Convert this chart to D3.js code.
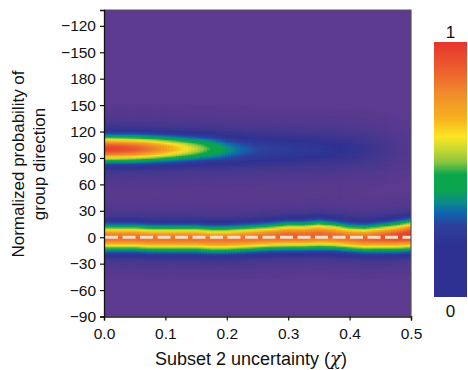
<!DOCTYPE html>
<html><head><meta charset="utf-8">
<script src="https://cdn.jsdelivr.net/npm/d3@7"></script>
<style>body{margin:0;background:#fff}svg{display:block}text{font-family:"Liberation Sans",Arial,sans-serif;fill:#111}</style>
</head><body>
<svg id="c" width="468" height="370"></svg>
<script>
// ---- data ----
const uncertainty = [0,0.025,0.05,0.075,0.1,0.125,0.15,0.175,0.2,0.225,0.25,0.275,0.3,0.325,0.35,0.375,0.4,0.425,0.45,0.475,0.5];
// band around 0 degrees
const band0Center = [0,0,0,-1,-1,-1,-1,-2,-2,-1,0,1,2,2,3,2,0,-1,0,1,3];
const band0Core   = [0.6,0.6,0.6,0.59,0.59,0.59,0.59,0.58,0.58,0.59,0.6,0.61,0.63,0.62,0.62,0.61,0.6,0.62,0.65,0.68,0.72];
const band0Halo   = [0.26,0.26,0.26,0.26,0.26,0.26,0.26,0.26,0.26,0.26,0.26,0.26,0.26,0.26,0.26,0.26,0.26,0.26,0.26,0.27,0.28];
const band0Width  = [9.5,9.5,9.5,9.5,9.5,9.5,9.5,9.5,9.5,9.5,9.5,9.5,10,10,10.5,10,9.5,9.5,10,10.5,11];
// band around 100 degrees
const band1Center = [101,101,101,101,101,101,101,101,100,100,100,100,100,100,100,100,100,100,100,100,100];
const band1Core   = [0.72,0.7,0.66,0.6,0.52,0.44,0.36,0.28,0.2,0.15,0.12,0.11,0.1,0.09,0.08,0.07,0.06,0.05,0.04,0.02,0.01];
const band1Halo   = [0.25,0.25,0.25,0.24,0.23,0.22,0.21,0.2,0.19,0.18,0.17,0.16,0.16,0.15,0.15,0.14,0.13,0.11,0.08,0.05,0.03];
const band1Width  = [9.5,9.5,9.5,9.5,9.5,9.5,9.5,10,10,10.5,11,11,11,11,11,11,11,11,11,11,11];
const xTicks = [0,0.1,0.2,0.3,0.4,0.5];
const yTicks = [-90,-60,-30,0,30,60,90,120,150,180,210,240];
const yTickLabels = ["−90","−60","−30","0","30","60","90","120","150","180","−150","−120"];
const colorStops = [0,0.1,0.2,0.28,0.33,0.37,0.42,0.48,0.53,0.58,0.63,0.7,0.8,0.9,1];
const heatColors = ["#5c3a8f","#46388f","#2f3292","#2e3f9c","#1065b0","#0b8a8a","#0aa54f","#0aa64d","#8cc63f","#c8d932","#fde522","#f6b21e","#f08a2c","#ec5a2e","#e5352d"];
const barColors  = ["#2e3192","#2e3192","#2e3192","#2e3f9c","#1065b0","#0b8a8a","#0aa54f","#0aa64d","#8cc63f","#c8d932","#fde522","#f6b21e","#f08a2c","#ec5a2e","#e5352d"];

// ---- layout ----
const svg = d3.select("#c");
const x = d3.scaleLinear().domain([0,0.5]).range([104,411]);
const y = d3.scaleLinear().domain([-90,258]).range([316.5,10]);
const heat = d3.scaleLinear().domain(colorStops).range(heatColors).clamp(true);
const barCol = d3.scaleLinear().domain(colorStops).range(barColors).clamp(true);

const interp = arr => d3.scaleLinear().domain(uncertainty).range(arr);
const c0 = interp(band0Center), k0 = interp(band0Core), h0 = interp(band0Halo), w0 = interp(band0Width);
const c1 = interp(band1Center), k1 = interp(band1Core), h1 = interp(band1Halo), w1 = interp(band1Width);
const HALO_W = 18;
function value(u, deg){
  const g = (d,a,w)=> a*Math.exp(-(d*d)/(2*w*w));
  const d0 = deg - c0(u), d1 = deg - c1(u);
  return Math.min(1, g(d0,k0(u),w0(u)) + g(d0,h0(u),HALO_W) + g(d1,k1(u),w1(u)) + g(d1,h1(u),HALO_W+2));
}

svg.append("defs").append("clipPath").attr("id","pc").append("rect")
  .attr("x",x(0)).attr("y",y(258)).attr("width",x(0.5)-x(0)).attr("height",y(-90)-y(258));
const g = svg.append("g").attr("clip-path","url(#pc)");
g.append("rect").attr("x",x(0)).attr("y",y(258)).attr("width",x(0.5)-x(0)).attr("height",y(-90)-y(258)).attr("fill",heat(0));

const du = 0.005, dd = 1.5;
const cells = [];
for (let u = 0; u <= 0.5+1e-9; u += du){
  for (let d = -70; d <= 160; d += dd){
    const v = value(u, d);
    if (v > 0.01) cells.push({u, d, v});
  }
}
g.selectAll("rect.cell").data(cells).join("rect").attr("class","cell")
  .attr("x", c=>x(c.u - du/2)).attr("y", c=>y(c.d + dd/2))
  .attr("width", x(du)-x(0)+0.6).attr("height", y(0)-y(dd)+0.6)
  .attr("fill", c=>heat(c.v));

// dashed line at 0
g.append("line").attr("x1",x(0)+1).attr("x2",x(0.5)).attr("y1",y(0)).attr("y2",y(0))
  .attr("stroke","#f7dcc6").attr("stroke-width",3).attr("stroke-dasharray","13,4.5");

// border
svg.append("path").attr("d",`M${x(0)},${y(258)}H${x(0.5)}V${y(-90)}`).attr("fill","none").attr("stroke","#555").attr("stroke-width",1.2);

// axes
const xAxis = svg.append("g").attr("transform",`translate(0,${y(-90)})`)
  .call(d3.axisBottom(x).tickValues(xTicks).tickFormat(d3.format(".1f")).tickSizeOuter(0).tickSize(4));
xAxis.select(".domain").attr("stroke","#111").attr("stroke-width",1.3);
xAxis.selectAll(".tick line").attr("stroke","#111").attr("stroke-width",1.2);
xAxis.selectAll("text").attr("font-size",15.5).attr("y",11).attr("dy","0.75em").attr("fill","#111");

const yAxis = svg.append("g").attr("transform",`translate(${x(0)},0)`)
  .call(d3.axisLeft(y).tickValues(yTicks).tickFormat((d,i)=>yTickLabels[i]).tickSizeOuter(0).tickSize(4));
yAxis.select(".domain").attr("stroke","#111").attr("stroke-width",1.3);
yAxis.selectAll(".tick line").attr("stroke","#111").attr("stroke-width",1.2);
yAxis.selectAll("text").attr("font-size",15.5).attr("x",-8).attr("fill","#111");

// titles
const xt = svg.append("text").attr("x",251).attr("y",365).attr("text-anchor","middle").attr("font-size",18);
xt.append("tspan").text("Subset 2 uncertainty (");
xt.append("tspan").attr("font-style","italic").attr("font-family","'DejaVu Serif',serif").text("χ");
xt.append("tspan").text(")");
const yt = svg.append("text").attr("transform","translate(24,164) rotate(-90)").attr("text-anchor","middle").attr("font-size",17);
yt.append("tspan").attr("x",0).attr("dy",0).text("Normalized probability of");
yt.append("tspan").attr("x",0).attr("dy","1.25em").text("group direction");

// colour bar
const cb = d3.scaleLinear().domain([0,1]).range([297,42]);
const grad = svg.select("defs").append("linearGradient").attr("id","cbg").attr("x1",0).attr("x2",0).attr("y1",1).attr("y2",0);
grad.selectAll("stop").data(colorStops).join("stop").attr("offset",d=>d).attr("stop-color",d=>barCol(d));
svg.append("rect").attr("x",434).attr("y",cb(1)).attr("width",33).attr("height",cb(0)-cb(1)).attr("fill","url(#cbg)");
svg.append("text").attr("x",450.5).attr("y",cb(1)-4).attr("text-anchor","middle").attr("font-size",17).text("1");
svg.append("text").attr("x",450.5).attr("y",cb(0)+20).attr("text-anchor","middle").attr("font-size",17).text("0");
</script>
</body></html>
